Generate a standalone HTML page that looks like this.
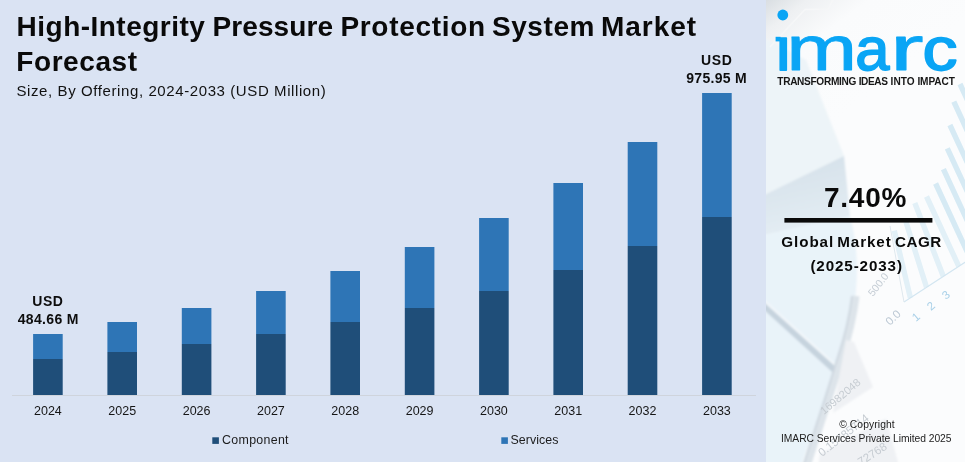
<!DOCTYPE html>
<html lang="en">
<head>
<meta charset="utf-8">
<title>High-Integrity Pressure Protection System Market Forecast</title>
<style>
html,body{margin:0;padding:0;}
body{width:965px;height:462px;overflow:hidden;background:#dae3f3;font-family:"Liberation Sans",sans-serif;}
svg{display:block;position:absolute;left:0;top:0;}
text{font-family:"Liberation Sans",sans-serif;fill:#111;}
.title{font-weight:bold;font-size:28px;fill:#0a0a0a;}
.sub{font-size:15px;fill:#111;}
.ax{font-size:12.5px;fill:#161616;}
.dl{font-weight:bold;font-size:14px;fill:#0d0d0d;}
.lg{font-size:12.4px;fill:#1c1c1c;}
.cagr{font-weight:bold;font-size:28px;fill:#0a0a0a;}
.gm{font-weight:bold;font-size:15.2px;fill:#0a0a0a;}
.cp{font-size:10.3px;fill:#1c1c1c;}
.tag{font-weight:bold;font-size:10.1px;fill:#161616;}
.logo{font-family:"Liberation Sans",sans-serif;font-size:61px;fill:#0aa5f5;stroke:#0aa5f5;stroke-linejoin:round;}
.fnt{font-size:10.5px;}
</style>
</head>
<body>
<svg width="965" height="462" viewBox="0 0 965 462">
<defs>
<linearGradient id="pg" gradientUnits="userSpaceOnUse" x1="766" y1="0" x2="850" y2="110">
<stop offset="0" stop-color="#d9dee2"/><stop offset="0.18" stop-color="#eef0f2"/><stop offset="0.45" stop-color="#fafbfc"/><stop offset="1" stop-color="#fbfcfd"/>
</linearGradient>
<linearGradient id="sh" x1="0" y1="0" x2="0.25" y2="1"><stop offset="0" stop-color="#d3dfe8"/><stop offset="1" stop-color="#e4edf4"/></linearGradient>
<filter id="b1" x="-5%" y="-5%" width="110%" height="110%"><feGaussianBlur stdDeviation="0.6"/></filter>
<filter id="b2" x="-5%" y="-5%" width="110%" height="110%"><feGaussianBlur stdDeviation="1.2"/></filter>
<clipPath id="pc"><rect x="766" y="0" width="199" height="462"/></clipPath>
<clipPath id="xh"><rect x="766" y="33" width="199" height="42"/></clipPath>
</defs>
<rect x="0" y="0" width="965" height="462" fill="#dae3f3"/>
<!-- right panel -->
<g id="panel" clip-path="url(#pc)">
<rect x="766" y="0" width="199" height="462" fill="#fbfcfd"/>
<rect x="766" y="0" width="199" height="130" fill="url(#pg)"/>
<g filter="url(#b2)">
<polygon points="760,36 806,60 844,156 760,197" fill="#edf4f8"/>
<polygon points="760,197 844,156 850,216 760,236" fill="url(#sh)"/>
<path d="M760,236 L850,216 C862,260 856,300 850,330 C842,362 815,420 800,470 L760,470 Z" fill="#e9f3f9"/>
<line x1="758" y1="300" x2="836" y2="371" stroke="#c6d3de" stroke-width="6.5"/>
<line x1="758" y1="295.5" x2="838" y2="367.5" stroke="#f4f8fb" stroke-width="2"/>
<path d="M856,296 C852,330 844,350 839,366 C829,400 815,440 806,470" fill="none" stroke="#dde4ea" stroke-width="7"/>
<path d="M852,296 C848,330 840,350 835,366 C825,400 811,440 802,470" fill="none" stroke="#cfd8e0" stroke-width="2"/>
<polygon points="846,340 854,342 873,387 833,413 840,372" fill="#eff1f4"/>
<polygon points="820,454 886,418.6 899,466 818,466" fill="#eff1f4"/>
</g>
<g filter="url(#b1)">
<line x1="894.3" y1="230.7" x2="910.4" y2="297.8" stroke="#e2f0f7" stroke-width="5.4"/>
<line x1="906.0" y1="222.0" x2="926.5" y2="287.2" stroke="#e2f0f7" stroke-width="5.4"/>
<line x1="914.8" y1="203.0" x2="943.3" y2="276.2" stroke="#e2f0f7" stroke-width="5.4"/>
<line x1="926.5" y1="196.5" x2="958.7" y2="266.1" stroke="#e2f0f7" stroke-width="5.4"/>
<line x1="935.6" y1="183.5" x2="970.3" y2="258.5" stroke="#d6eaf4" stroke-width="5.4"/>
<line x1="943.4" y1="169.2" x2="981.4" y2="251.2" stroke="#d6eaf4" stroke-width="5.4"/>
<line x1="947.3" y1="148.4" x2="991.8" y2="244.4" stroke="#d6eaf4" stroke-width="5.4"/>
<line x1="949.9" y1="125.0" x2="1002.1" y2="237.7" stroke="#d6eaf4" stroke-width="5.4"/>
<line x1="953.8" y1="101.7" x2="1013.3" y2="230.3" stroke="#d6eaf4" stroke-width="5.4"/>
<line x1="960.0" y1="84.0" x2="1024.4" y2="223.0" stroke="#d6eaf4" stroke-width="5.4"/>
<line x1="968.0" y1="70.0" x2="1035.5" y2="215.7" stroke="#d6eaf4" stroke-width="5.4"/>
<line x1="904" y1="302" x2="970" y2="259" stroke="#d3e6f1" stroke-width="1.2"/>
<line x1="904" y1="302" x2="890" y2="226" stroke="#dfe8ee" stroke-width="1"/>
<polyline points="770,47 805,9.5 828,9 833,0" fill="none" stroke="#f6f7f8" stroke-width="1.4"/>
</g>
<g filter="url(#b1)">
<text transform="translate(890,326) rotate(-44)" class="fnt" style="fill:#bcc8d4;font-size:11.5px">0.0</text>
<text transform="translate(916,322) rotate(-40)" class="fnt" style="fill:#a9d0e8;font-size:11.5px">1</text>
<text transform="translate(931,311) rotate(-40)" class="fnt" style="fill:#a9d0e8;font-size:11.5px">2</text>
<text transform="translate(946,300) rotate(-40)" class="fnt" style="fill:#a9d0e8;font-size:11.5px">3</text>
<text transform="translate(873,297) rotate(-52)" class="fnt" style="fill:#c6ced6">500.0</text>
<text transform="translate(824,415) rotate(-40)" class="fnt" style="fill:#c6ccd2;font-size:11px">16982048</text>
<text transform="translate(822,457) rotate(-38)" class="fnt" style="fill:#c6ccd2;font-size:11.5px">0.15785714</text>
<text transform="translate(861,466) rotate(-33)" class="fnt" style="fill:#c6ccd2;font-size:11.5px">72768</text>
</g>
</g>
<!-- title -->
<text y="35.9" class="title"><tspan x="16.6" style="letter-spacing:0.477px">High-Integrity</tspan> <tspan x="212.4" style="letter-spacing:0.114px">Pressure</tspan> <tspan x="340.4" style="letter-spacing:0.689px">Protection</tspan> <tspan x="491.9" style="letter-spacing:0.6px">System</tspan> <tspan x="601" style="letter-spacing:0.96px">Market</tspan></text>
<text x="16.3" y="71.3" class="title" style="letter-spacing:0.571px">Forecast</text>
<text x="16.5" y="96.3" class="sub" style="letter-spacing:0.595px">Size, By Offering, 2024-2033 (USD Million)</text>
<!-- chart -->
<line x1="12" y1="395.5" x2="756" y2="395.5" stroke="#cfd4dc" stroke-width="1"/>
<rect x="33.1" y="334" width="29.6" height="25" fill="#2e75b6"/>
<rect x="33.1" y="359" width="29.6" height="36" fill="#1f4e79"/>
<rect x="107.4" y="322" width="29.6" height="30" fill="#2e75b6"/>
<rect x="107.4" y="352" width="29.6" height="43" fill="#1f4e79"/>
<rect x="181.8" y="308" width="29.6" height="36" fill="#2e75b6"/>
<rect x="181.8" y="344" width="29.6" height="51" fill="#1f4e79"/>
<rect x="256.1" y="291" width="29.6" height="43" fill="#2e75b6"/>
<rect x="256.1" y="334" width="29.6" height="61" fill="#1f4e79"/>
<rect x="330.4" y="271" width="29.6" height="51" fill="#2e75b6"/>
<rect x="330.4" y="322" width="29.6" height="73" fill="#1f4e79"/>
<rect x="404.8" y="247" width="29.6" height="61" fill="#2e75b6"/>
<rect x="404.8" y="308" width="29.6" height="87" fill="#1f4e79"/>
<rect x="479.1" y="218" width="29.6" height="73" fill="#2e75b6"/>
<rect x="479.1" y="291" width="29.6" height="104" fill="#1f4e79"/>
<rect x="553.4" y="183" width="29.6" height="87" fill="#2e75b6"/>
<rect x="553.4" y="270" width="29.6" height="125" fill="#1f4e79"/>
<rect x="627.7" y="142" width="29.6" height="104" fill="#2e75b6"/>
<rect x="627.7" y="246" width="29.6" height="149" fill="#1f4e79"/>
<rect x="702.1" y="93" width="29.6" height="124" fill="#2e75b6"/>
<rect x="702.1" y="217" width="29.6" height="178" fill="#1f4e79"/>
<text x="47.9" y="415.2" text-anchor="middle" class="ax">2024</text>
<text x="122.2" y="415.2" text-anchor="middle" class="ax">2025</text>
<text x="196.6" y="415.2" text-anchor="middle" class="ax">2026</text>
<text x="270.9" y="415.2" text-anchor="middle" class="ax">2027</text>
<text x="345.2" y="415.2" text-anchor="middle" class="ax">2028</text>
<text x="419.6" y="415.2" text-anchor="middle" class="ax">2029</text>
<text x="493.9" y="415.2" text-anchor="middle" class="ax">2030</text>
<text x="568.2" y="415.2" text-anchor="middle" class="ax">2031</text>
<text x="642.5" y="415.2" text-anchor="middle" class="ax">2032</text>
<text x="716.9" y="415.2" text-anchor="middle" class="ax">2033</text>
<text x="32.2" y="305.5" class="dl" style="letter-spacing:0.6px">USD</text>
<text x="17.7" y="324.2" class="dl" style="letter-spacing:0.343px">484.66 M</text>
<text x="701" y="64.5" class="dl" style="letter-spacing:0.6px">USD</text>
<text x="686.3" y="82.9" class="dl" style="letter-spacing:0.286px">975.95 M</text>
<!-- legend -->
<rect x="212.3" y="437.3" width="6.6" height="6.6" fill="#1f4e79"/>
<rect x="501.3" y="437.3" width="6.6" height="6.6" fill="#2e75b6"/>
<text x="222.1" y="444" class="lg" style="letter-spacing:0.3px">Component</text>
<text x="510.5" y="444" class="lg" style="letter-spacing:0.057px">Services</text>
<!-- logo -->
<circle cx="782.8" cy="15" r="5.4" fill="#0aa5f5"/>
<rect x="775.6" y="36.8" width="5" height="4.6" fill="#0aa5f5"/>
<text y="70.2" class="logo" clip-path="url(#xh)"><tspan x="776.1" textLength="14.6" lengthAdjust="spacingAndGlyphs" style="font-size:61px;stroke-width:1.75px">i</tspan><tspan x="786.3" textLength="70.93" lengthAdjust="spacingAndGlyphs" style="font-size:62.5px;stroke-width:0.8px">m</tspan><tspan x="855.3" textLength="34.15" lengthAdjust="spacingAndGlyphs" style="font-size:61px;stroke-width:1.75px">a</tspan><tspan x="889.9" textLength="33.65" lengthAdjust="spacingAndGlyphs" style="font-size:62.5px;stroke-width:0.8px">r</tspan><tspan x="922.5" textLength="34.98" lengthAdjust="spacingAndGlyphs" style="font-size:61px;stroke-width:1.75px">c</tspan></text>
<text y="84.5" class="tag"><tspan x="777.3" style="letter-spacing:-0.309px">TRANSFORMING</tspan> <tspan x="858.7" style="letter-spacing:-0.4px">IDEAS</tspan> <tspan x="890.6" style="letter-spacing:0.0px">INTO</tspan> <tspan x="917.4" style="letter-spacing:-0.08px">IMPACT</tspan></text>
<!-- cagr -->
<text x="824" y="206.6" class="cagr" style="letter-spacing:0.75px">7.40%</text>
<rect x="784.4" y="218" width="148" height="4.6" fill="#0a0a0a"/>
<text y="246.7" class="gm"><tspan x="781.2" style="letter-spacing:0.96px">Global</tspan> <tspan x="837.2" style="letter-spacing:0.92px">Market</tspan> <tspan x="895" style="letter-spacing:0.533px">CAGR</tspan></text>
<text x="810.4" y="270.9" class="gm" style="letter-spacing:0.88px">(2025-2033)</text>
<!-- copyright -->
<text x="839.2" y="428" class="cp" style="letter-spacing:0.1px">© Copyright</text>
<text x="781" y="441.7" class="cp" style="letter-spacing:-0.053px">IMARC Services Private Limited 2025</text>
</svg>
</body>
</html>
